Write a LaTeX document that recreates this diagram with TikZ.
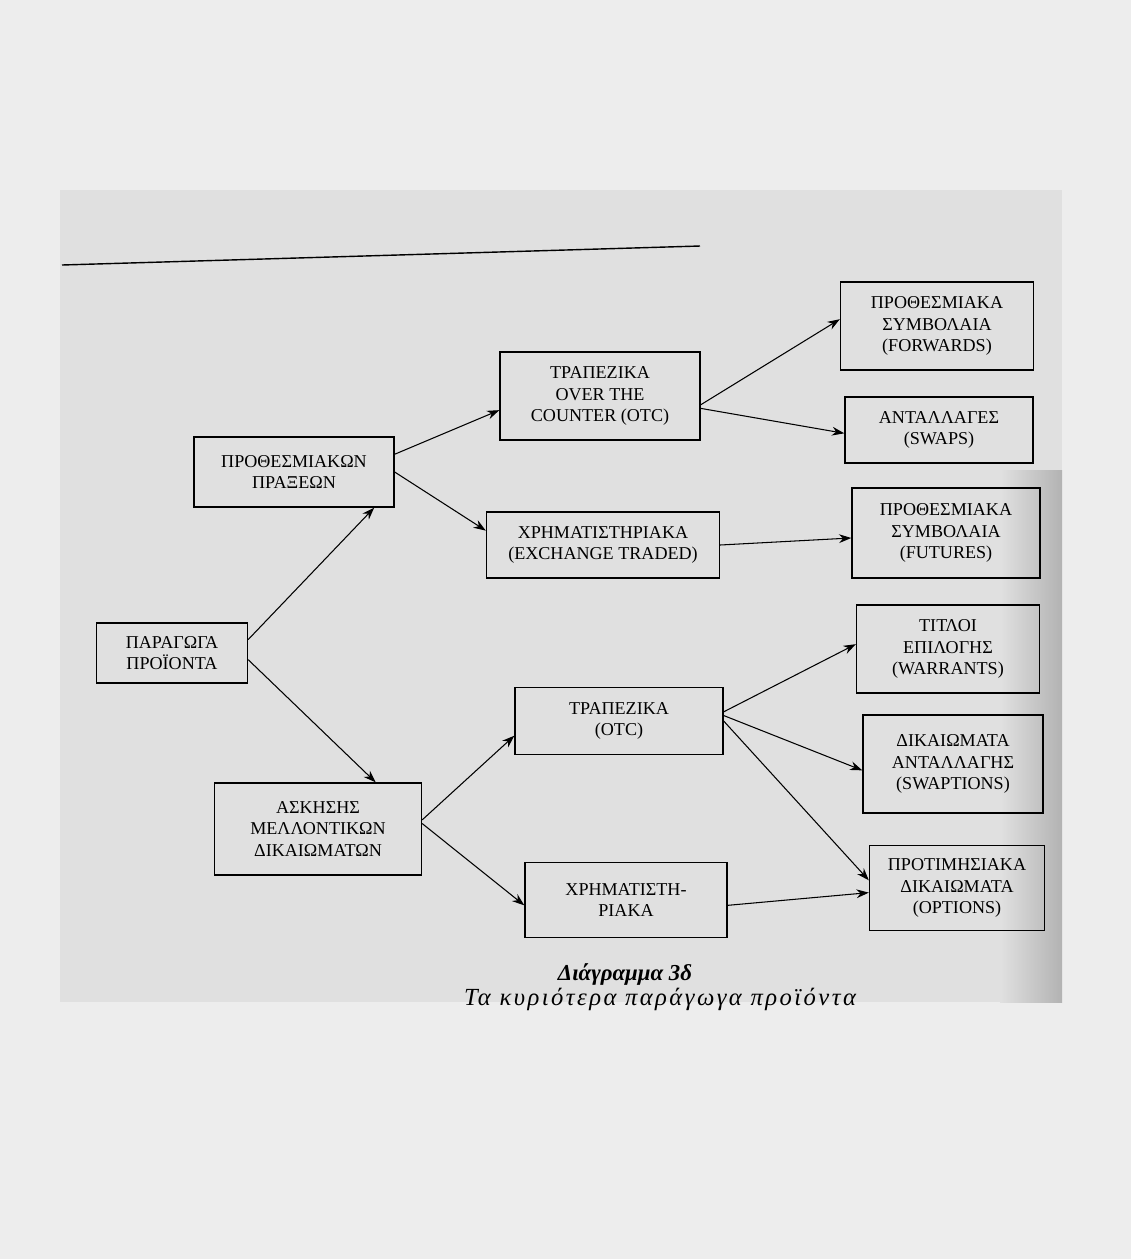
\documentclass[tikz,border=0pt]{standalone}
\usepackage{fontspec}
\setmainfont{Liberation Serif}
\usetikzlibrary{arrows.meta}

\tikzset{
    derivBox/.style={draw, thick, align=center, inner sep=2pt,
        font=\fontsize{10.3}{12.3}\selectfont},
    derivArrow/.style={-{Stealth[length=7pt,width=5pt]}, semithick}
}

\begin{document}
\begin{tikzpicture}[x=0.02cm, y=-0.02cm]
    \fill[gray!14] (0,0) rectangle (1131,1259);
    \fill[gray!24] (60,190) rectangle (1062,1002);
    \shade[left color=gray!24, right color=gray!60] (1000,470) rectangle (1062,1002);
    \useasboundingbox (0,0) rectangle (1131,1259);

    \coordinate (ruleStart) at (62,265);
    \coordinate (ruleEnd) at (700,246);
    \draw[thick] (ruleStart) -- (ruleEnd);

    \node[derivBox, minimum width=3.02cm, minimum height=1.2cm] (paragoga) at (172,653) {ΠΑΡΑΓΩΓΑ\\ΠΡΟΪΟΝΤΑ};
    \node[derivBox, minimum width=4.0cm, minimum height=1.4cm] (prothesmiakon) at (294,472) {ΠΡΟΘΕΣΜΙΑΚΩΝ\\ΠΡΑΞΕΩΝ};
    \node[derivBox, minimum width=4.14cm, minimum height=1.84cm] (askisis) at (318,829) {ΑΣΚΗΣΗΣ\\ΜΕΛΛΟΝΤΙΚΩΝ\\ΔΙΚΑΙΩΜΑΤΩΝ};

    \node[derivBox, minimum width=4.0cm, minimum height=1.76cm] (trapezikaOtc) at (600,396) {ΤΡΑΠΕΖΙΚΑ\\OVER THE\\COUNTER (OTC)};
    \node[derivBox, minimum width=4.66cm, minimum height=1.32cm] (xrimExchange) at (603,545) {ΧΡΗΜΑΤΙΣΤΗΡΙΑΚΑ\\(EXCHANGE TRADED)};
    \node[derivBox, minimum width=4.16cm, minimum height=1.34cm] (trapezikaLow) at (619,721) {ΤΡΑΠΕΖΙΚΑ\\(OTC)};
    \node[derivBox, minimum width=4.04cm, minimum height=1.5cm] (xrimLow) at (626,900) {ΧΡΗΜΑΤΙΣΤΗ-\\ΡΙΑΚΑ};

    \node[derivBox, minimum width=3.86cm, minimum height=1.76cm] (forwards) at (937,326) {ΠΡΟΘΕΣΜΙΑΚΑ\\ΣΥΜΒΟΛΑΙΑ\\(FORWARDS)};
    \node[derivBox, minimum width=3.76cm, minimum height=1.32cm] (swaps) at (939,430) {ΑΝΤΑΛΛΑΓΕΣ\\(SWAPS)};
    \node[derivBox, minimum width=3.76cm, minimum height=1.8cm] (futures) at (946,533) {ΠΡΟΘΕΣΜΙΑΚΑ\\ΣΥΜΒΟΛΑΙΑ\\(FUTURES)};
    \node[derivBox, minimum width=3.66cm, minimum height=1.76cm] (warrants) at (948,649) {ΤΙΤΛΟΙ\\ΕΠΙΛΟΓΗΣ\\(WARRANTS)};
    \node[derivBox, minimum width=3.6cm, minimum height=1.96cm] (swaptions) at (953,764) {ΔΙΚΑΙΩΜΑΤΑ\\ΑΝΤΑΛΛΑΓΗΣ\\(SWAPTIONS)};
    \node[derivBox, minimum width=3.5cm, minimum height=1.7cm] (options) at (957,888) {ΠΡΟΤΙΜΗΣΙΑΚΑ\\ΔΙΚΑΙΩΜΑΤΑ\\(OPTIONS)};

    \draw[derivArrow] (paragoga.10) -- (prothesmiakon.-24);
    \draw[derivArrow] (paragoga.-5) -- (askisis.39);
    \draw[derivArrow] (prothesmiakon.10) -- (trapezikaOtc.188);
    \draw[derivArrow] (prothesmiakon.east) -- (xrimExchange.173);
    \draw[derivArrow] (trapezikaOtc.-5) -- (forwards.176);
    \draw[derivArrow] (trapezikaOtc.-7) -- (swaps.182);
    \draw[derivArrow] (xrimExchange.east) -- (futures.183);
    \draw[derivArrow] (askisis.5) -- (trapezikaLow.188);
    \draw[derivArrow] (askisis.3) -- (xrimLow.183);
    \draw[derivArrow] (trapezikaLow.5) -- (warrants.177);
    \draw[derivArrow] (trapezikaLow.3) -- (swaptions.184);
    \draw[derivArrow] (trapezikaLow.east) -- (options.175);
    \draw[derivArrow] (xrimLow.-3) -- (options.183);

    \node[font=\fontsize{13}{15}\selectfont\bfseries\itshape] (captionTitle) at (625,974) {Διάγραμμα 3δ};
    \node[font=\fontsize{14}{16}\selectfont\itshape\addfontfeatures{LetterSpace=10}] (captionText) at (660,999) {Τα κυριότερα παράγωγα προϊόντα};
\end{tikzpicture}
\end{document}
